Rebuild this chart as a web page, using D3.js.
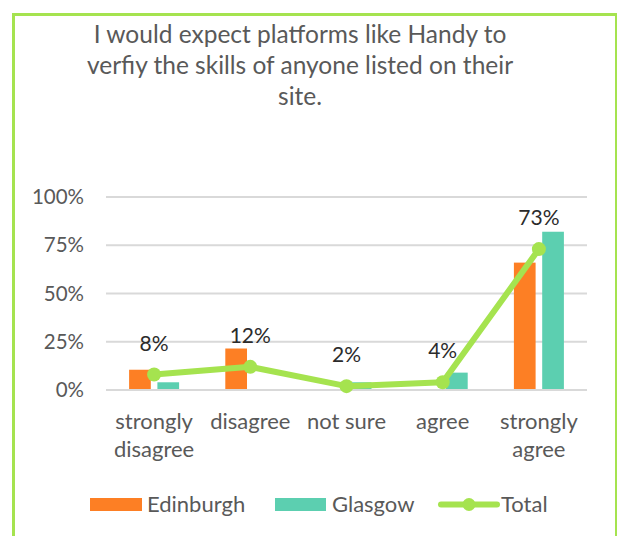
<!DOCTYPE html>
<html>
<head>
<meta charset="utf-8">
<script src="https://cdn.jsdelivr.net/npm/d3@7"></script>
<style>
  html, body { margin: 0; padding: 0; background: #fff; }
  svg { display: block; }
  text { font-family: Lato, "Open Sans", sans-serif; }
</style>
</head>
<body>
<svg id="chart" width="617" height="536"></svg>
<script>
// Survey answers by city, in percent
const categories = ["strongly disagree", "disagree", "not sure", "agree", "strongly agree"];
const categoryLines = [["strongly", "disagree"], ["disagree"], ["not sure"], ["agree"], ["strongly", "agree"]];
const edinburgh = [10.5, 21.5, 0, 0, 66];
const glasgow = [4, 0, 4, 9, 82];
const total = [8, 12, 2, 4, 73];
const seriesNames = ["Edinburgh", "Glasgow"];
const yTicks = [0, 25, 50, 75, 100];
const titleLines = [
  "I would expect platforms like Handy to",
  "verfiy the skills of anyone listed on their",
  "site."
];

const colors = { Edinburgh: "#fd7f24", Glasgow: "#5ccfb0", Total: "#a5e34f" };
const textGray = "#595959";

const svg = d3.select("#chart");

// green frame around the chart
svg.append("rect")
  .attr("x", 13.5).attr("y", 14.5)
  .attr("width", 603).attr("height", 600)
  .attr("fill", "none")
  .attr("stroke", colors.Total)
  .attr("stroke-width", 3);

// title
svg.append("g").selectAll("text")
  .data(titleLines)
  .join("text")
  .attr("x", 300)
  .attr("y", (d, i) => 42.5 + i * 31.3)
  .attr("text-anchor", "middle")
  .attr("fill", textGray)
  .style("font-size", "24.5px")
  .text(d => d);

// scales
const x = d3.scaleBand().domain(categories).range([106, 587]).padding(0);
const xs = d3.scaleBand().domain(seriesNames).range([-25, 25]).paddingInner(0.233);
const y = d3.scaleLinear().domain([0, 100]).range([390, 197]);

// gridlines
svg.append("g").selectAll("line")
  .data(yTicks)
  .join("line")
  .attr("x1", 106).attr("x2", 587)
  .attr("y1", d => y(d)).attr("y2", d => y(d))
  .attr("stroke", "#d9d9d9")
  .attr("stroke-width", 2);

// y axis labels
const yAxis = d3.axisLeft(y).tickValues(yTicks).tickFormat(d => d + "%").tickSize(0).tickPadding(0);
const yg = svg.append("g").attr("transform", "translate(84,0)").call(yAxis);
yg.select(".domain").remove();
yg.selectAll("text")
  .attr("fill", textGray)
  .style("font-size", "20.5px")
  .style("font-family", "Lato, 'Open Sans', sans-serif");

// bars
const barData = [];
categories.forEach((c, i) => {
  barData.push({ cat: c, series: "Edinburgh", value: edinburgh[i] });
  barData.push({ cat: c, series: "Glasgow", value: glasgow[i] });
});
svg.append("g").selectAll("rect")
  .data(barData)
  .join("rect")
  .attr("x", d => x(d.cat) + x.bandwidth() / 2 + xs(d.series))
  .attr("width", xs.bandwidth())
  .attr("y", d => y(d.value))
  .attr("height", d => y(0) - y(d.value) - 1)
  .attr("fill", d => colors[d.series]);

// total line
const pts = categories.map((c, i) => ({ cat: c, value: total[i] }));
const line = d3.line()
  .x(d => x(d.cat) + x.bandwidth() / 2)
  .y(d => y(d.value));
svg.append("path")
  .datum(pts)
  .attr("d", line)
  .attr("fill", "none")
  .attr("stroke", colors.Total)
  .attr("stroke-width", 6)
  .attr("stroke-linejoin", "round")
  .attr("stroke-linecap", "round");
svg.append("g").selectAll("circle")
  .data(pts)
  .join("circle")
  .attr("cx", d => x(d.cat) + x.bandwidth() / 2)
  .attr("cy", d => y(d.value))
  .attr("r", 7)
  .attr("fill", colors.Total);

// value labels for total
svg.append("g").selectAll("text")
  .data(pts)
  .join("text")
  .attr("x", d => x(d.cat) + x.bandwidth() / 2)
  .attr("y", d => y(d.value) - 24)
  .attr("text-anchor", "middle")
  .attr("fill", "#2b2b2b")
  .style("font-size", "21px")
  .text(d => d.value + "%");

// category labels
const cg = svg.append("g").selectAll("text")
  .data(categories)
  .join("text")
  .attr("x", d => x(d) + x.bandwidth() / 2)
  .attr("y", 429)
  .attr("text-anchor", "middle")
  .attr("fill", textGray)
  .style("font-size", "22px");
cg.each(function(d, i) {
  d3.select(this).selectAll("tspan")
    .data(categoryLines[i])
    .join("tspan")
    .attr("x", x(d) + x.bandwidth() / 2)
    .attr("dy", (t, j) => j === 0 ? 0 : 27.5)
    .text(t => t);
});

// legend
const legend = svg.append("g");
const legendItems = [
  { name: "Edinburgh", kind: "bar", x0: 90, x1: 142, tx: 147 },
  { name: "Glasgow", kind: "bar", x0: 275, x1: 326, tx: 332 },
  { name: "Total", kind: "line", x0: 441, x1: 497, tx: 501 }
];
legendItems.forEach(it => {
  if (it.kind === "bar") {
    legend.append("rect")
      .attr("x", it.x0).attr("y", 498)
      .attr("width", it.x1 - it.x0).attr("height", 13)
      .attr("fill", colors[it.name]);
  } else {
    legend.append("line")
      .attr("x1", it.x0).attr("x2", it.x1)
      .attr("y1", 504.5).attr("y2", 504.5)
      .attr("stroke", colors.Total)
      .attr("stroke-width", 6)
      .attr("stroke-linecap", "round");
    legend.append("circle")
      .attr("cx", (it.x0 + it.x1) / 2).attr("cy", 504.5)
      .attr("r", 6.5)
      .attr("fill", colors.Total);
  }
  legend.append("text")
    .attr("x", it.tx).attr("y", 512)
    .attr("fill", textGray)
    .style("font-size", "22px")
    .text(it.name);
});
</script>
</body>
</html>
